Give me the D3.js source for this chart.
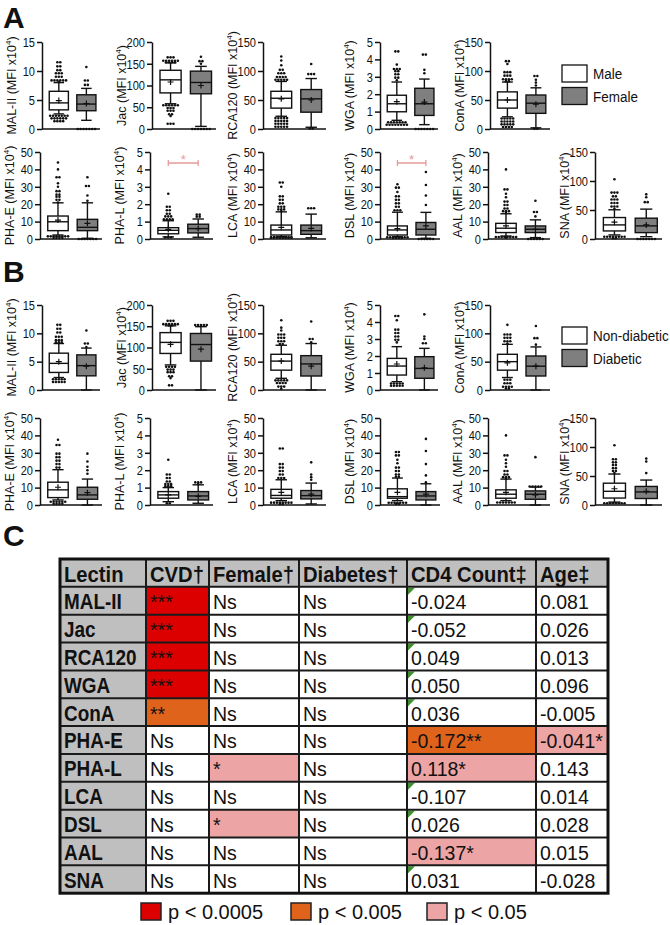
<!DOCTYPE html>
<html><head><meta charset="utf-8">
<script src="https://cdn.jsdelivr.net/npm/d3@7"></script>
<style>body{margin:0;background:#fff} svg{display:block;font-family:"Liberation Sans",Arial,sans-serif}</style>
</head><body><svg id="c" width="670" height="925"></svg>
<script>
// ---------------- DATA ----------------
const lectins = ["MAL-II","Jac","RCA120","WGA","ConA","PHA-E","PHA-L","LCA","DSL","AAL","SNA"];
const yMax  = [15,200,150,5,150,50,5,50,50,50,150];
const yStep = [5,50,50,1,50,10,1,10,10,10,50];
// [whiskerLow, Q1, median, Q3, whiskerHigh, mean]
const maleStats = [
  [2.6,3.3,4.5,6.5,8.0,4.9],[58,83,113,135,152,108],[22,36,53,65,82,52],[0.5,0.99,1.45,1.94,2.7,1.57],
  [21,36,50,64,81,50],[2.3,4.8,9.9,13.2,20.8,10.9],[0.12,0.3,0.5,0.65,1.05,0.55],[1.3,2.3,5.2,8,15.6,6.7],
  [1.3,2.3,5.2,7.5,15.4,6],[1.7,3.7,6.2,9,14.5,7.5],[7,13.9,24.3,37,50.4,29]];
const femaleStats = [
  [1.5,3.15,4.3,5.9,7.0,4.4],[6,81,107,133,144,100],[3,29,52,68,87,50],[0.25,0.78,1.45,2.34,2.87,1.55],
  [2,27,44.5,58.6,71,42.8],[0.4,4.8,6.7,11.3,20.8,9],[0.1,0.35,0.6,0.85,1.15,0.6],[0.7,2.7,4.8,8,14.3,6.1],
  [0.4,2.3,5.6,9.5,15.3,7.5],[0.8,3.7,5.6,7.5,11,5.6],[4,11,22.6,35.9,51.5,24.3]];
const nonDiabStats = [
  [2.2,3.1,4.7,6.5,8.2,5.0],[59,86,112,135,151,107.5],[20.6,35,51,63,79,51],[0.49,0.88,1.41,1.86,2.55,1.53],
  [22,35,50,63,80.6,48],[2.9,4.25,8.7,13.1,20.3,10.2],[0.19,0.39,0.58,0.77,1.0,0.58],[2.5,3.9,5.5,9,14.5,7.3],
  [2.5,3.9,4.8,9.3,15.5,7.3],[2.5,3.9,6.2,8.7,14.9,7.3],[5,12,23.6,37.6,53.4,28]];
const diabStats = [
  [0,2.5,4.3,6.2,7.4,4.2],[0,68,107,133,149,96],[0,24.7,46,60.6,82,42],[0,0.69,1.27,1.96,2.45,1.31],
  [0,24.7,42,60,76,42],[0,3.3,5.8,10.2,14.9,7.1],[0.1,0.29,0.52,0.77,1.16,0.5],[0.6,3.5,5.4,8.3,12.6,6.2],
  [0,2.9,5.2,7.7,12.2,6.2],[0,3.3,6.2,8.1,10.3,5.8],[0,11.2,22.5,32,43,23.6]];
const maleOut = [
  [8.1,8.2,8.3,8.3,8.4,8.5,8.6,8.8,9.0,9.2,9.4,9.6,9.8,10.0,10.3,10.6,11.0,11.3,11.7,2.5,2.4,2.3,2.3,2.2,2.2,2.1,2.0,2.0,1.9,1.8,1.7,1.6,1.5,1.4,1.3,1.2],
  [153,153,154,154,155,155,156,157,158,160,162,165,167,57,56,55,54,53,52,50,48,46,44,42,40,36,32,30,14,12,10],
  [83,84,85,86,87,88,89,90,92,94,96,98,100,104,110,118,125,21,20,19,18,17,16,15,14,13,12,11,10,9,8,7,6,5,4,3,2],
  [2.8,2.9,3.0,3.1,3.2,3.3,3.35,3.4,3.45,3.5,3.7,4.45,4.47,0.45,0.42,0.4,0.38,0.36,0.34,0.32,0.3,0.3,0.28,0.26,0.24,0.22,0.2,0.18],
  [82,83,84,85,86,88,90,92,94,96,98,100,112,116,118,20,19,18,17,16,15,14,13,12,11,10,9,8,7,6,5,4,3,2],
  [21,22,23,24,24.5,25,26,27,28,30,32,35,36,40,44,2.2,2,1.8,1.6,1.4,1.2,1,0.9,0.8,0.7,0.6,0.5],
  [1.1,1.1,1.15,1.2,1.25,1.3,1.35,1.4,1.5,1.6,1.7,1.8,1.9,2.6,0.1,0.1,0.1],
  [16,16.5,17,17.5,18,18.5,19,20,21,22,23,24,25,30,32,33,1.2,1.2,1.1,1.1,1,1,1,0.9,0.9,0.8,0.8,0.7,0.7,0.6,0.6,0.5],
  [16,16.5,17,18,19,20,21,22,23,24,25,27,29,30,31.5,1.2,1.2,1.1,1,1,0.9,0.9,0.8,0.8,0.7,0.6,0.5],
  [15,15.5,16,16.5,17,18,19,20,21,22,24,26,28,29,40,1.5,1.4,1.3,1.2,1.1,1,1,0.9,0.8],
  [52,54,56,58,60,62,64,66,68,70,72,75,78,80,82,103,6,5,5,4,4,3,3,2,2,1]];
const femaleOut = [
  [7.4,7.8,8.3,8.4,10.7,0,0,0,0,0,0,0],[150,155,157,166,0,0,0,0,0,0,0],[93,95,96,112,1,0.5],
  [3.2,3.4,4.25,4.3,0,0,0,0,0,0,0],[75,80,85,90,93,0.5,0.5],[22,25,30,31,35.5,0,0,0,0,0,0,0],
  [1.25,1.3,1.35,1.45],[17,18,18],[19.5,25,31,38.5,0,0,0,0,0,0],[13,15,16,22,0,0,0,0,0,0],[62,65,72,77,0,0,0,0,0,0,0]];
const nonDiabOut = [
  [8.3,8.4,8.5,8.6,8.8,9,9.2,9.4,9.6,10,10.3,10.6,11,11.3,11.7,2.1,2,1.9,1.8,1.7,1.6,1.5,1.4,1.3,1.2],
  [152,152,153,154,154,155,156,158,160,163,165,57,55,54,52,50,48,46,44,42,40,35,30,28,12,10],
  [80,82,84,86,88,90,92,94,96,98,100,105,110,123,19,18,17,16,15,14,13,12,10,8,6,4,2],
  [2.8,2.9,3,3.1,3.2,3.3,3.4,3.5,3.6,4.1,4.3,4.4,0.45,0.4,0.38,0.35,0.32,0.3,0.28,0.25,0.22,0.2],
  [82,84,86,88,90,92,94,96,98,100,115,20,18,16,14,12,10,8,6,5,4,3,2],
  [21,22,23,24,25,26,27,28,29,30,34,35,37.5,2.5,2.2,2,1.8,1.5,1.2,1,0.8,0.6,0.4],
  [1.05,1.1,1.1,1.15,1.2,1.25,1.3,1.4,1.5,1.6,1.7,1.8,2.6,0.1,0.1],
  [15,15.5,16,17,18,19,20,21,22,23,24,32,33,2,1.8,1.6,1.4,1.2,1,1,0.8,0.6,0.5],
  [16,16.5,17,18,19,20,21,22,24,26,28,29,30,31,2,1.8,1.5,1.2,1,1,0.8,0.6,0.5],
  [15,15.5,16,16.5,17,18,19,20,22,24,26,28,29,40,2,1.8,1.6,1.4,1.2,1,0.8],
  [55,57,60,62,65,68,70,72,75,78,80,103,5,4,4,3,3,2,2,1]];
const diabOut = [
  [7.6,8,8.4,10.5],[150,152,153,154,155],[84,88,92,121],[2.7,2.8,3.0,3.15,4.45],[80,90,93,113],
  [18,20,22,25,29.5],[1.2,1.25,1.3,1.35],[14.5,16,17.5,24.5],[13,17,23.5,31,38],[10.6,10.6,10.6,10.6,10.6,27.5],[55,75,80]];
// Table C
const tableHeaders = ["Lectin","CVD\u2020","Female\u2020","Diabetes\u2020","CD4 Count\u2021","Age\u2021"];
const cvdCol      = ["***","***","***","***","**","Ns","Ns","Ns","Ns","Ns","Ns"];
const femaleCol   = ["Ns","Ns","Ns","Ns","Ns","Ns","*","Ns","*","Ns","Ns"];
const diabetesCol = ["Ns","Ns","Ns","Ns","Ns","Ns","Ns","Ns","Ns","Ns","Ns"];
const cd4Col      = ["-0.024","-0.052","0.049","0.050","0.036","-0.172**","0.118*","-0.107","0.026","-0.137*","0.031"];
const ageCol      = ["0.081","0.026","0.013","0.096","-0.005","-0.041*","0.143","0.014","0.028","0.015","-0.028"];
const legendLabels = ["p < 0.0005","p < 0.005","p < 0.05"];

// ---------------- DRAW ----------------
const svg = d3.select("#c");
const BLACK = "#111";
const GRAY = "#7f7f7f";
const sigColors = {3:"#dd0000", 2:"#e0631c", 1:"#eca4a4"};

// panel letters
[["A",27.5],["B",282],["C",546]].forEach(([t,y]) =>
  svg.append("text").attr("x",3).attr("y",y).attr("font-size",30).attr("font-weight","bold").attr("fill",BLACK).text(t));

// plot positions [axisX, axisWidth]
const colsRow1 = [[42,58],[152,64],[263,63],[380,58],[490,60]];
const colsRow2 = [[40,62],[150,63],[263,63],[380,60],[488,62],[595,67]];
const rowY = {A1:[42,129], A2:[152,239], B1:[305,390], B2:[418,505]};

function layoutOut(vals, y, cx) {
  const pts = vals.map(v => y(v)).sort((a,b)=>a-b);
  const rows = [];
  pts.forEach(p => {
    const r = rows[rows.length-1];
    if (r && Math.abs(p - r.y0) < 2.4 && r.items.length < 8) r.items.push(p);
    else rows.push({y0:p, items:[p]});
  });
  const out = [];
  rows.forEach(r => { const n = r.items.length, my = d3.mean(r.items);
    r.items.forEach((p,i) => out.push([cx + (i-(n-1)/2)*2.9, my])); });
  return out;
}

function drawBox(g, y, cx, bw, s, fill, outs) {
  const [lo,q1,med,q3,hi,mean] = s;
  const cap = bw*0.55;
  g.append("line").attr("x1",cx).attr("x2",cx).attr("y1",y(hi)).attr("y2",y(q3)).attr("stroke",BLACK).attr("stroke-width",1.4);
  g.append("line").attr("x1",cx).attr("x2",cx).attr("y1",y(q1)).attr("y2",y(lo)).attr("stroke",BLACK).attr("stroke-width",1.4);
  [hi,lo].forEach(v => g.append("line").attr("x1",cx-cap/2).attr("x2",cx+cap/2).attr("y1",y(v)).attr("y2",y(v)).attr("stroke",BLACK).attr("stroke-width",1.4));
  g.append("rect").attr("x",cx-bw/2).attr("y",y(q3)).attr("width",bw).attr("height",y(q1)-y(q3))
    .attr("fill",fill).attr("stroke",BLACK).attr("stroke-width",1.4);
  g.append("line").attr("x1",cx-bw/2).attr("x2",cx+bw/2).attr("y1",y(med)).attr("y2",y(med)).attr("stroke",BLACK).attr("stroke-width",1.4);
  const my = y(mean);
  g.append("path").attr("d",`M${cx-3},${my}H${cx+3}M${cx},${my-3}V${my+3}`).attr("stroke",BLACK).attr("stroke-width",1.2);
  g.selectAll(null).data(layoutOut(outs, y, cx)).join("circle")
    .attr("cx",d=>d[0]).attr("cy",d=>d[1]).attr("r",1.3).attr("fill",BLACK);
}

function drawPlot(i, pos, yr, sA, sB, oA, oB, sig) {
  const [ax, w] = pos;
  const [yTop, y0] = yr;
  const y = d3.scaleLinear().domain([0, yMax[i]]).range([y0, yTop]);
  const g = svg.append("g");
  const axis = d3.axisLeft(y).tickValues(d3.range(0, yMax[i] + 1e-9, yStep[i]))
    .tickFormat(d3.format("d")).tickSize(5).tickSizeOuter(0).tickPadding(2);
  const ag = g.append("g").attr("transform",`translate(${ax},0)`).call(axis);
  ag.select(".domain").attr("stroke",BLACK).attr("stroke-width",1.5);
  ag.selectAll(".tick line").attr("stroke",BLACK).attr("stroke-width",1.5);
  ag.selectAll(".tick text").attr("x",0).attr("transform","translate(-7,0) scale(0.82,1)")
    .attr("font-size",13.5).attr("fill",BLACK).attr("font-family","Liberation Sans, Arial, sans-serif");
  g.append("line").attr("x1",ax).attr("x2",ax+w).attr("y1",y0).attr("y2",y0).attr("stroke",BLACK).attr("stroke-width",1.5);
  const bw = w*0.33, c1 = ax + w*0.29, c2 = ax + w*0.765;
  drawBox(g, y, c1, bw, sA, "#fff", oA);
  drawBox(g, y, c2, bw, sB, GRAY, oB);
  const lab = g.append("text").attr("transform",`translate(${ax-26},${(y0+yTop)/2}) rotate(-90)`)
    .attr("text-anchor","middle").attr("font-size",12.5).attr("fill",BLACK);
  lab.append("tspan").text(`${lectins[i]} (MFI x10`);
  lab.append("tspan").attr("dy",-5).attr("font-size",8).text("4");
  lab.append("tspan").attr("dy",5).text(")");
  if (sig) {
    const by = yTop + 11, pink = "#e79a9a";
    g.append("path").attr("d",`M${c1},${by}H${c2}M${c1},${by-3}V${by+3}M${c2},${by-3}V${by+3}`)
      .attr("stroke",pink).attr("stroke-width",1.3).attr("fill","none");
    g.append("text").attr("x",(c1+c2)/2).attr("y",by+1).attr("text-anchor","middle").attr("font-size",13).attr("fill",pink).text("*");
  }
}

lectins.forEach((name, i) => {
  const pos = i < 5 ? colsRow1[i] : colsRow2[i-5];
  const sig = femaleCol[i] === "*";
  drawPlot(i, pos, i < 5 ? rowY.A1 : rowY.A2, maleStats[i], femaleStats[i], maleOut[i], femaleOut[i], sig);
  drawPlot(i, pos, i < 5 ? rowY.B1 : rowY.B2, nonDiabStats[i], diabStats[i], nonDiabOut[i], diabOut[i], false);
});

// legends for A and B
function legend(y, labels) {
  labels.forEach((t,k) => {
    const yy = y + k*22.5;
    svg.append("rect").attr("x",562).attr("y",yy).attr("width",25).attr("height",17)
      .attr("fill",k ? GRAY : "#fff").attr("stroke",BLACK).attr("stroke-width",1.3);
    svg.append("text").attr("transform",`translate(593,${yy+14}) scale(0.93,1)`).attr("font-size",14.5).attr("fill",BLACK).text(t);
  });
}
legend(65, ["Male","Female"]);
legend(327, ["Non-diabetic","Diabetic"]);

// ---------------- TABLE ----------------
const colX = [60,146,209,299,407,536,608];
const tTop = 559, rowH = 27.85;
const columns = [lectins, cvdCol, femaleCol, diabetesCol, cd4Col, ageCol];
const tg = svg.append("g");
const stars = s => (s.match(/\*/g) || []).length;
tg.append("rect").attr("x",colX[0]).attr("y",tTop).attr("width",colX[6]-colX[0]).attr("height",rowH).attr("fill","#bfbfbf");
tg.append("rect").attr("x",colX[0]).attr("y",tTop+rowH).attr("width",colX[1]-colX[0]).attr("height",rowH*11).attr("fill","#bfbfbf");
for (let c = 1; c < 6; c++) {
  columns[c].forEach((v, r) => {
    const n = stars(v);
    const x = colX[c], yy = tTop + rowH*(r+1);
    if (n) tg.append("rect").attr("x",x).attr("y",yy).attr("width",colX[c+1]-x).attr("height",rowH).attr("fill",sigColors[n]);
    else if (c === 4) tg.append("path").attr("d",`M${x+1},${yy+1}h7l-7,7z`).attr("fill","#3f8f2f");
  });
}
for (let r = 1; r < 12; r++) tg.append("line").attr("x1",colX[0]).attr("x2",colX[6]).attr("y1",tTop+rowH*r).attr("y2",tTop+rowH*r).attr("stroke","#1a1a1a").attr("stroke-width",2);
for (let c = 1; c < 6; c++) tg.append("line").attr("x1",colX[c]).attr("x2",colX[c]).attr("y1",tTop).attr("y2",tTop+rowH*12).attr("stroke","#1a1a1a").attr("stroke-width",2);
tg.append("rect").attr("x",colX[0]).attr("y",tTop).attr("width",colX[6]-colX[0]).attr("height",rowH*12).attr("fill","none").attr("stroke","#111").attr("stroke-width",3);
tableHeaders.forEach((h, c) => {
  tg.append("text").attr("transform",`translate(${colX[c]+4},${tTop+rowH-5}) scale(0.92,1)`)
    .attr("font-size",22).attr("font-weight","bold").attr("fill",BLACK).text(h);
});
columns.forEach((col, c) => col.forEach((v, r) => {
  const yy = tTop + rowH*(r+2) - 5.5;
  if (c === 0) tg.append("text").attr("transform",`translate(${colX[c]+4},${yy}) scale(0.86,1)`)
      .attr("font-size",22).attr("font-weight","bold").attr("fill",BLACK).text(v);
  else tg.append("text").attr("x",colX[c]+4).attr("y",yy).attr("font-size",19.5).attr("fill",BLACK).text(v);
}));

// significance legend
const legX = [141, 291, 427];
legendLabels.forEach((t,k) => {
  svg.append("rect").attr("x",legX[k]).attr("y",903).attr("width",20).attr("height",17)
    .attr("fill",sigColors[3-k]).attr("stroke","#222").attr("stroke-width",1.5);
  svg.append("text").attr("x",legX[k]+27).attr("y",919).attr("font-size",20).attr("fill",BLACK).text(t);
});
</script></body></html>
